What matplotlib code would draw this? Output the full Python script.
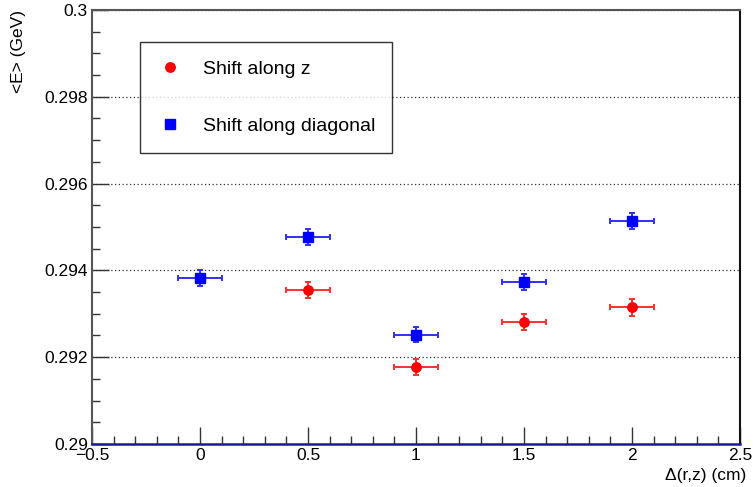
import numpy as np
import matplotlib.pyplot as plt
from matplotlib.lines import Line2D
from matplotlib.ticker import MultipleLocator, FuncFormatter

plt.rcParams['font.family'] = ['Liberation Sans', 'DejaVu Sans']

# data
shift = [0.0, 0.5, 1.0, 1.5, 2.0]
shift_err = [0.1, 0.1, 0.1, 0.1, 0.1]

z_shift = [0.5, 1.0, 1.5, 2.0]
e_along_z = [0.29355, 0.29177, 0.29281, 0.29315]
e_along_z_err = [0.00019, 0.00019, 0.00019, 0.00019]

e_along_diag = [0.29383, 0.29477, 0.29252, 0.29373, 0.29514]
e_along_diag_err = [0.00018, 0.00018, 0.00018, 0.00018, 0.00018]


def fmt_tick(v, pos):
    s = "%g" % round(v, 6)
    return s.replace("-", "\u2212")


fig = plt.figure(figsize=(7.53, 4.87), dpi=100)
ax = fig.add_axes([0.1222, 0.0883, 0.8605, 0.8912])

ax.errorbar(z_shift, e_along_z, xerr=shift_err[:4], yerr=e_along_z_err,
            fmt='o', color='#ff0000', ecolor='#ff3030', markersize=6.8,
            elinewidth=1.4, capsize=2.2, capthick=1.4)
ax.errorbar(shift, e_along_diag, xerr=shift_err, yerr=e_along_diag_err,
            fmt='s', color='#0000ff', ecolor='#3030ff', markersize=6.5,
            elinewidth=1.4, capsize=2.2, capthick=1.4)

ax.set_xlim(-0.5, 2.5)
ax.set_ylim(0.29, 0.3)

ax.xaxis.set_major_locator(MultipleLocator(0.5))
ax.xaxis.set_minor_locator(MultipleLocator(0.1))
ax.yaxis.set_major_locator(MultipleLocator(0.002))
ax.yaxis.set_minor_locator(MultipleLocator(0.0005))
ax.xaxis.set_major_formatter(FuncFormatter(fmt_tick))
ax.yaxis.set_major_formatter(FuncFormatter(fmt_tick))

ax.tick_params(which='both', direction='in', top=False, right=False,
               labelsize=12.5, color='#333333', width=1)
ax.tick_params(which='major', length=12, pad=3)
ax.tick_params(which='minor', length=6)
ax.grid(axis='y', which='major', linestyle=(0, (1, 2)), color='#333333', lw=0.9)

for side in ['left', 'top']:
    ax.spines[side].set_color('#555555')
    ax.spines[side].set_linewidth(1.5)
ax.spines['right'].set_color('#111111')
ax.spines['right'].set_linewidth(1.5)
ax.spines['bottom'].set_color('#1a1a99')
ax.spines['bottom'].set_linewidth(1.8)

ax.set_ylabel('<E> (GeV)', fontsize=12.5, loc='top', labelpad=13)
ax.set_xlabel('\u0394(r,z) (cm)', fontsize=12.5, loc='right', labelpad=4)
ax.xaxis.set_label_coords(1.009, -0.055)

handles = [
    Line2D([], [], ls='none', marker='o', color='#ff0000', markersize=6.8),
    Line2D([], [], ls='none', marker='s', color='#0000ff', markersize=6.5),
]
leg = ax.legend(handles, ['Shift along z', 'Shift along diagonal'],
                loc='upper left', bbox_to_anchor=(0.074, 0.652, 0.389, 0.274),
                mode='expand', borderaxespad=0, fontsize=14, frameon=True,
                fancybox=False, edgecolor='black', borderpad=0.95,
                handlelength=1.2, handletextpad=1.1, labelspacing=2.0)
leg.get_frame().set_linewidth(1.0)

fig.savefig('out.png', dpi=100)
